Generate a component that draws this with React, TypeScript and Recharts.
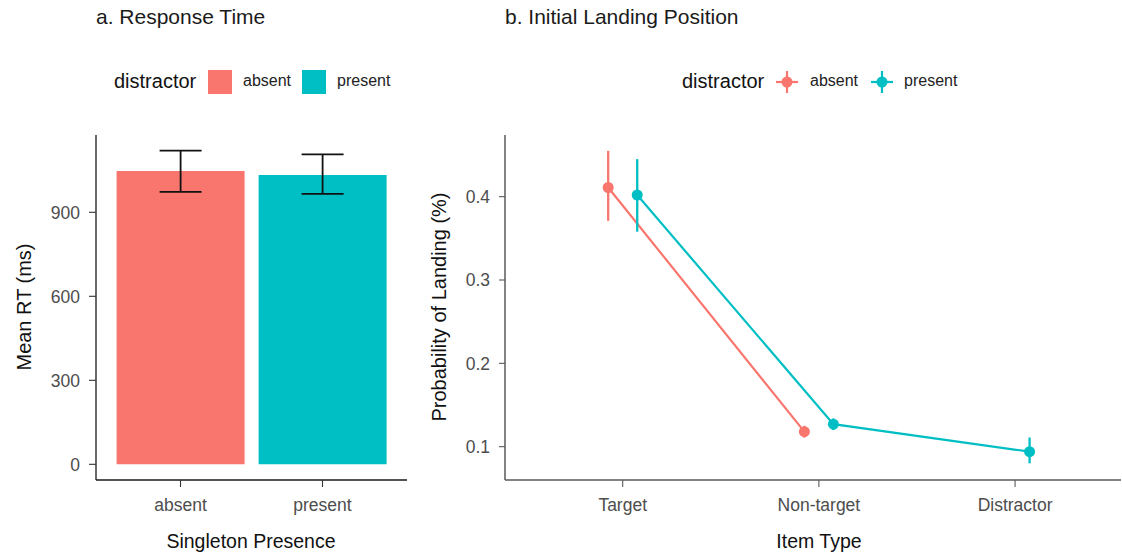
import React from "react";
import {
  BarChart,
  Bar,
  Cell,
  ErrorBar,
  XAxis,
  YAxis,
  LineChart,
  Line,
} from "recharts";

const FONT = '"Liberation Sans", Arial, sans-serif';
const RED = "#F8766D";
const TEAL = "#00BFC4";
const TICK_GREY = "#4D4D4D";

// a. response time by singleton presence
const presence = ["absent", "present"];
const rtMean = [1047, 1033];
const rtLower = [973, 966];
const rtUpper = [1120, 1107];

// b. landing probability by item type
const itemTypes = ["Target", "Non-target", "Distractor"];
const absentProb = [0.411, 0.118];
const absentLower = [0.371, 0.111];
const absentUpper = [0.455, 0.125];
const presentProb = [0.402, 0.127, 0.094];
const presentLower = [0.358, 0.12, 0.08];
const presentUpper = [0.445, 0.134, 0.111];

const rtTicks = [0, 300, 600, 900];
const probTicks = [0.1, 0.2, 0.3, 0.4];

const DODGE = 0.074;

const rtRows = presence.map((name, i) => ({
  name,
  rt: rtMean[i],
  err: [rtMean[i] - rtLower[i], rtUpper[i] - rtMean[i]],
}));

function pointRows(means: number[], lo: number[], hi: number[], shift: number) {
  return means.map((p, i) => ({
    x: i + 1 + shift,
    y: p,
    err: [p - lo[i], hi[i] - p],
  }));
}

const absentRows = pointRows(absentProb, absentLower, absentUpper, -DODGE);
const presentRows = pointRows(presentProb, presentLower, presentUpper, DODGE);

const tickStyle = { fill: TICK_GREY, fontSize: 17.5, fontFamily: FONT };

const abs = (left: number, top: number): React.CSSProperties => ({
  position: "absolute",
  left,
  top,
  fontFamily: FONT,
  whiteSpace: "nowrap",
  lineHeight: 1,
});

function Title({ x, text }: { x: number; text: string }) {
  return <div style={{ ...abs(x, 6), fontSize: 21, color: "#1a1a1a" }}>{text}</div>;
}

function YTitle({ cx, cy, text }: { cx: number; cy: number; text: string }) {
  return (
    <div
      style={{
        ...abs(cx, cy),
        fontSize: 20,
        color: "#111",
        transform: "translate(-50%, -50%) rotate(-90deg)",
      }}
    >
      {text}
    </div>
  );
}

function XTitle({ cx, cy, text }: { cx: number; cy: number; text: string }) {
  return (
    <div
      style={{
        ...abs(cx, cy),
        fontSize: 19.5,
        color: "#111",
        transform: "translate(-50%, -50%)",
      }}
    >
      {text}
    </div>
  );
}

function FillKey({ x, color }: { x: number; color: string }) {
  return <div style={{ ...abs(x, 70), width: 24, height: 24, background: color }} />;
}

function PointKey({ cx, color }: { cx: number; color: string }) {
  return (
    <svg width={26} height={26} style={{ ...abs(cx - 13, 69) }}>
      <line x1={2} y1={13} x2={24} y2={13} stroke={color} strokeWidth={2.2} />
      <line x1={13} y1={2} x2={13} y2={24} stroke={color} strokeWidth={2.2} />
      <circle cx={13} cy={13} r={5.5} fill={color} />
    </svg>
  );
}

function LegendText({ x, text, size }: { x: number; text: string; size: number }) {
  return (
    <div
      style={{
        ...abs(x, 82),
        fontSize: size,
        color: size > 17 ? "#111" : "#222",
        transform: "translateY(-55%)",
      }}
    >
      {text}
    </div>
  );
}

export default function App() {
  return (
    <div
      style={{
        position: "absolute",
        left: 0,
        top: 0,
        width: 1122,
        height: 552,
        background: "#fff",
        overflow: "hidden",
      }}
    >
      <Title x={96} text="a. Response Time" />
      <Title x={505} text="b. Initial Landing Position" />

      <LegendText x={114} text="distractor" size={20} />
      <FillKey x={208} color={RED} />
      <LegendText x={243} text="absent" size={16} />
      <FillKey x={302} color={TEAL} />
      <LegendText x={337} text="present" size={16} />

      <LegendText x={682} text="distractor" size={20} />
      <PointKey cx={787} color={RED} />
      <LegendText x={810} text="absent" size={16} />
      <PointKey cx={882} color={TEAL} />
      <LegendText x={904} text="present" size={16} />

      <div style={{ position: "absolute", left: 0, top: 0 }}>
        <BarChart
          width={420}
          height={552}
          data={rtRows}
          margin={{ top: 135, right: 13, bottom: 0, left: 0 }}
          barCategoryGap="5%"
          style={{ fontFamily: FONT }}
        >
          <XAxis
            dataKey="name"
            height={72}
            padding={{ left: 13.5, right: 13.5 }}
            tick={tickStyle}
            tickSize={7}
            tickMargin={12}
            axisLine={{ stroke: "#1a1a1a", strokeWidth: 1.3 }}
            tickLine={{ stroke: "#333", strokeWidth: 1.1 }}
          />
          <YAxis
            type="number"
            width={96}
            domain={[-56, 1176]}
            allowDataOverflow
            ticks={rtTicks}
            interval={0}
            tick={tickStyle}
            tickSize={7}
            tickMargin={9}
            axisLine={{ stroke: "#1a1a1a", strokeWidth: 1.3 }}
            tickLine={{ stroke: "#333", strokeWidth: 1.1 }}
          />
          <Bar dataKey="rt" isAnimationActive={false}>
            {rtRows.map((r, i) => (
              <Cell key={r.name} fill={i === 0 ? RED : TEAL} />
            ))}
            <ErrorBar dataKey="err" width={21} stroke="#111" strokeWidth={1.8} direction="y" />
          </Bar>
        </BarChart>
      </div>

      <div style={{ position: "absolute", left: 420, top: 0 }}>
        <LineChart
          width={702}
          height={552}
          margin={{ top: 135, right: 1, bottom: 0, left: 0 }}
          style={{ fontFamily: FONT }}
        >
          <XAxis
            dataKey="x"
            type="number"
            domain={[0.4, 3.54]}
            allowDataOverflow
            ticks={[1, 2, 3]}
            interval={0}
            tickFormatter={(v: number) => itemTypes[Math.round(v) - 1]}
            height={72}
            tick={tickStyle}
            tickSize={7}
            tickMargin={12}
            axisLine={{ stroke: "#5a5a5a", strokeWidth: 1.5 }}
            tickLine={{ stroke: "#5a5a5a", strokeWidth: 1.1 }}
          />
          <YAxis
            type="number"
            width={85}
            domain={[0.06, 0.474]}
            allowDataOverflow
            ticks={probTicks}
            interval={0}
            tick={tickStyle}
            tickSize={6}
            tickMargin={9}
            axisLine={{ stroke: "#5a5a5a", strokeWidth: 1.5 }}
            tickLine={{ stroke: "#5a5a5a", strokeWidth: 1.1 }}
          />
          <Line
            data={absentRows}
            dataKey="y"
            stroke={RED}
            strokeWidth={2.2}
            dot={{ r: 5.5, fill: RED, stroke: RED, strokeWidth: 0 }}
            activeDot={false}
            isAnimationActive={false}
          >
            <ErrorBar dataKey="err" width={0} stroke={RED} strokeWidth={2.3} direction="y" />
          </Line>
          <Line
            data={presentRows}
            dataKey="y"
            stroke={TEAL}
            strokeWidth={2.2}
            dot={{ r: 5.5, fill: TEAL, stroke: TEAL, strokeWidth: 0 }}
            activeDot={false}
            isAnimationActive={false}
          >
            <ErrorBar dataKey="err" width={0} stroke={TEAL} strokeWidth={2.3} direction="y" />
          </Line>
        </LineChart>
      </div>

      <YTitle cx={24} cy={307} text="Mean RT (ms)" />
      <XTitle cx={251} cy={542} text="Singleton Presence" />
      <YTitle cx={439} cy={307} text="Probability of Landing (%)" />
      <XTitle cx={819} cy={542} text="Item Type" />
    </div>
  );
}
